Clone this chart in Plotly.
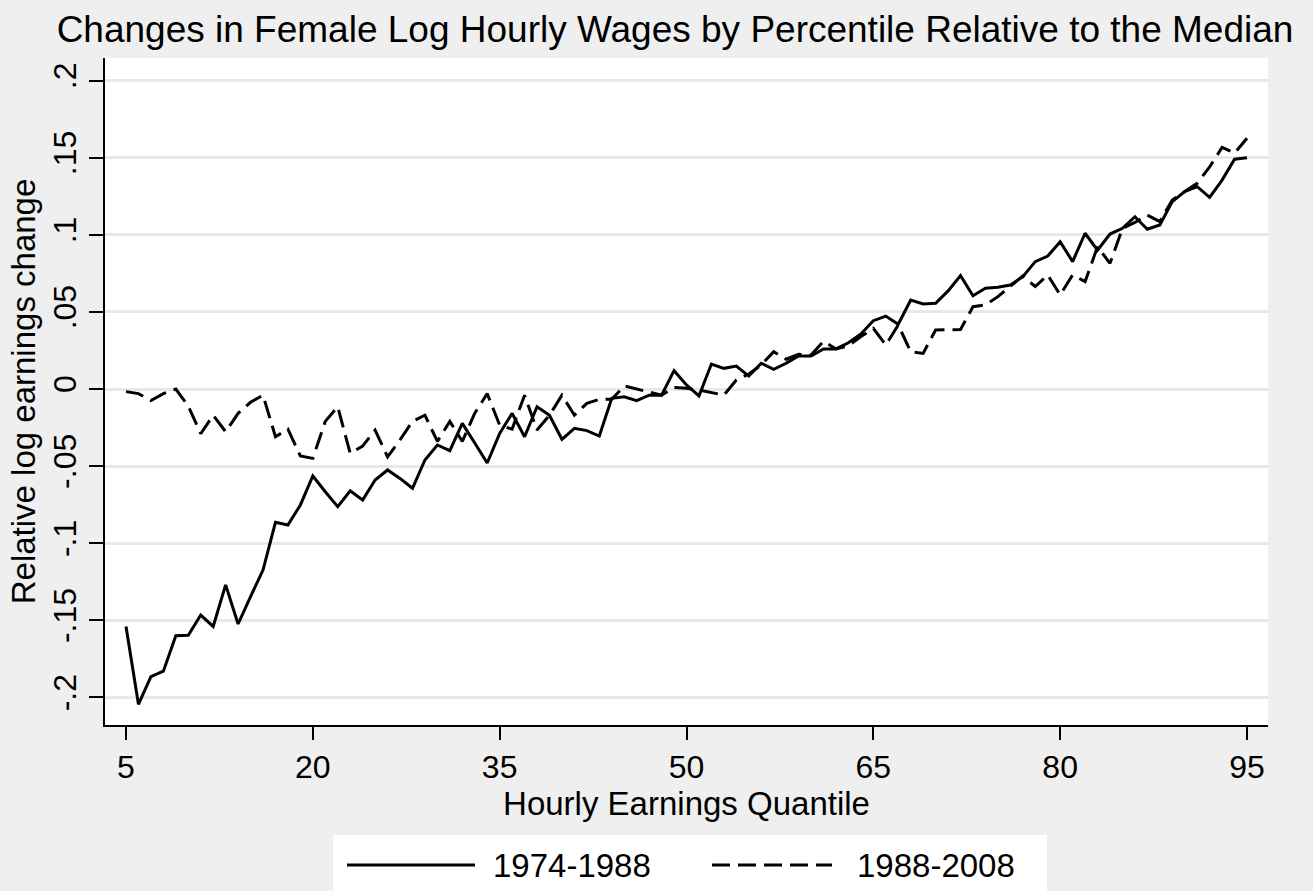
import plotly.graph_objects as go

quantiles = list(range(5, 96))

change_1974_1988 = [
    -0.154, -0.2045, -0.1866, -0.183, -0.160, -0.1597, -0.1466, -0.154, -0.127, -0.1524,
    -0.1347, -0.1174, -0.0865, -0.0882, -0.0752, -0.0564, -0.0666, -0.0763, -0.066, -0.072,
    -0.059, -0.0525, -0.058, -0.0644, -0.046, -0.0363, -0.040, -0.0223, -0.035, -0.048,
    -0.0288, -0.0158, -0.031, -0.0115, -0.017, -0.0326, -0.0255, -0.027, -0.0305, -0.006,
    -0.005, -0.0076, -0.004, -0.004, 0.0119, 0.0026, -0.0045, 0.0162, 0.0134, 0.0149,
    0.0084, 0.0167, 0.0128, 0.0167, 0.0214, 0.0214, 0.026, 0.026, 0.030, 0.0357,
    0.0443, 0.0473, 0.042, 0.0577, 0.0551, 0.0556, 0.0636, 0.0735, 0.0605, 0.0653,
    0.066, 0.0674, 0.0728, 0.0826, 0.0862, 0.0955, 0.0826, 0.101, 0.090, 0.1005,
    0.1042, 0.1117, 0.1036, 0.1064, 0.1215, 0.128, 0.1312, 0.1243, 0.1355, 0.149,
    0.150,
]

change_1988_2008 = [
    -0.0017, -0.003, -0.0075, -0.003, 0.0, -0.011, -0.029, -0.017, -0.0277, -0.0158,
    -0.0086, -0.004, -0.031, -0.026, -0.0434, -0.045, -0.021, -0.0115, -0.0417, -0.037,
    -0.0266, -0.044, -0.033, -0.021, -0.017, -0.034, -0.021, -0.034, -0.0157, -0.003,
    -0.0235, -0.026, -0.004, -0.0266, -0.017, -0.004, -0.017, -0.0093, -0.0067, -0.0067,
    0.002, 0.0, -0.0017, -0.004, 0.001, 0.0005, -0.0006, -0.0024, -0.004, 0.0058,
    0.0097, 0.0156, 0.0242, 0.0193, 0.0225, 0.022, 0.031, 0.026, 0.028, 0.034,
    0.0393, 0.0285, 0.0415, 0.0242, 0.0231, 0.0383, 0.0386, 0.0386, 0.0534, 0.0545,
    0.0599, 0.0668, 0.0733, 0.0664, 0.0739, 0.061, 0.074, 0.0696, 0.0923, 0.0815,
    0.1042, 0.108, 0.1128, 0.1085, 0.1226, 0.128, 0.1334, 0.144, 0.1567, 0.153,
    0.1626,
]

series_names = ["1974-1988", "1988-2008"]
x_ticks = [5, 20, 35, 50, 65, 80, 95]
y_ticks = [-0.2, -0.15, -0.1, -0.05, 0, 0.05, 0.1, 0.15, 0.2]
y_tick_labels = ["-.2", "-.15", "-.1", "-.05", "0", ".05", ".1", ".15", ".2"]

FONT = "Liberation Sans, Arial, Helvetica, sans-serif"
DASH = "18px,8px"

fig = go.Figure()
fig.add_trace(go.Scatter(x=quantiles, y=change_1974_1988, mode="lines", name=series_names[0],
                         line=dict(color="black", width=3), showlegend=False))
fig.add_trace(go.Scatter(x=quantiles, y=change_1988_2008, mode="lines", name=series_names[1],
                         line=dict(color="black", width=3, dash=DASH), showlegend=False))

# paper coordinate helpers (plot area: x 105..1268 px, y 58..725 px)
L, R, T, B = 105, 1268, 58, 725
def px(v):
    return (v - L) / (R - L)
def py(v):
    return (B - v) / (B - T)

shapes = [
    dict(type="rect", xref="paper", yref="paper", x0=px(333), x1=px(1047), y0=py(900), y1=py(835),
         fillcolor="white", line=dict(width=0), layer="below"),
    dict(type="line", xref="paper", yref="paper", x0=px(347), x1=px(475), y0=py(865), y1=py(865),
         line=dict(color="black", width=3)),
    dict(type="line", xref="paper", yref="paper", x0=px(712), x1=px(832), y0=py(865), y1=py(865),
         line=dict(color="black", width=3, dash=DASH)),
]
annotations = [
    dict(text=series_names[0], xref="paper", yref="paper", x=px(491), y=py(865), xanchor="left",
         yanchor="middle", showarrow=False, font=dict(family=FONT, size=33, color="black")),
    dict(text=series_names[1], xref="paper", yref="paper", x=px(855), y=py(865), xanchor="left",
         yanchor="middle", showarrow=False, font=dict(family=FONT, size=33, color="black")),
]

fig.update_layout(
    width=1313, height=891,
    margin=dict(l=L, r=1313 - R, t=T, b=891 - B),
    paper_bgcolor="#efefef", plot_bgcolor="white",
    font=dict(family=FONT, color="black", size=32),
    title=dict(text="Changes in Female Log Hourly Wages by Percentile Relative to the Median",
               x=675 / 1313, xanchor="center", y=1 - 29 / 891, yanchor="middle",
               font=dict(family=FONT, size=37, color="black")),
    shapes=shapes, annotations=annotations,
    showlegend=False,
)
fig.update_xaxes(
    range=[5 - 21 / 12.456, 95 + 21 / 12.456], tickvals=x_ticks, ticks="outside", ticklen=13,
    tickwidth=1.5, tickcolor="black", showline=True, linecolor="black", linewidth=1.5,
    showgrid=False, zeroline=False, tickfont=dict(size=32),
    title=dict(text="Hourly Earnings Quantile", font=dict(size=33), standoff=0),
)
fig.update_yaxes(
    range=[-(B - 389) / 1542, (389 - T) / 1542], tickvals=y_ticks, ticktext=y_tick_labels,
    ticks="outside", ticklen=14, tickwidth=1.5, tickcolor="black", tickangle=-90,
    showline=True, linecolor="black", linewidth=1.5, showgrid=True, gridcolor="#e8e8e8",
    gridwidth=3, zeroline=False, tickfont=dict(size=32),
    title=dict(text="Relative log earnings change", font=dict(size=33), standoff=2),
)

fig.write_html("out.html", post_script="document.body.style.margin='0';",
               config={"displayModeBar": False})
